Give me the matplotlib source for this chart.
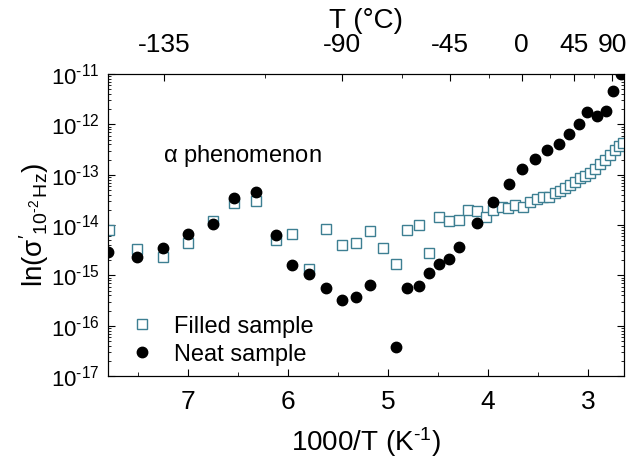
import matplotlib
matplotlib.use("Agg")
import matplotlib.pyplot as plt
import numpy as np
from matplotlib.ticker import LogLocator, FixedLocator, NullFormatter, FuncFormatter

plt.rcParams['font.family'] = ['Liberation Sans', 'DejaVu Sans']
plt.rcParams['mathtext.fontset'] = 'custom'
plt.rcParams['mathtext.rm'] = 'Liberation Sans'
plt.rcParams['mathtext.it'] = 'Liberation Sans:italic'
plt.rcParams['mathtext.default'] = 'regular'
plt.rcParams['axes.unicode_minus'] = False

# Neat sample (filled circles): 1000/T and log10(sigma')
neat_x = [7.80, 7.51, 7.25, 7.00, 6.75, 6.54, 6.32, 6.12, 5.96, 5.79, 5.62, 5.46, 5.32,
          5.18, 4.92, 4.81, 4.69, 4.59, 4.49, 4.39, 4.29, 4.11, 3.95, 3.79, 3.66,
          3.53, 3.41, 3.29, 3.19, 3.09, 3.01, 2.91, 2.82, 2.75, 2.67]
neat_e = [-14.54, -14.63, -14.45, -14.17, -13.97, -13.46, -13.35, -14.19, -14.80, -14.98,
          -15.25, -15.48, -15.43, -15.19, -16.43, -15.25, -15.21, -14.96, -14.78, -14.68,
          -14.43, -13.96, -13.55, -13.19, -12.89, -12.68, -12.51, -12.39, -12.20, -12.00,
          -11.76, -11.83, -11.74, -11.34, -10.99]

# Filled sample (open squares)
filled_x = [7.79, 7.51, 7.25, 7.00, 6.75, 6.54, 6.32, 6.12, 5.96, 5.79, 5.62, 5.46, 5.32,
            5.18, 5.05, 4.92, 4.81, 4.69, 4.59, 4.49, 4.39, 4.29, 4.20, 4.11, 4.02, 3.95,
            3.86, 3.80, 3.73, 3.65, 3.58, 3.51, 3.45, 3.39, 3.33, 3.28, 3.23, 3.18, 3.13,
            3.08, 3.03, 2.98, 2.93, 2.88, 2.83, 2.78, 2.73, 2.69, 2.65]
filled_e = [-14.10, -14.48, -14.63, -14.35, -13.92, -13.56, -13.52, -14.30, -14.17, -14.88,
            -14.08, -14.39, -14.35, -14.11, -14.45, -14.78, -14.10, -13.99, -14.55, -13.84,
            -13.92, -13.89, -13.70, -13.72, -13.84, -13.70, -13.64, -13.67, -13.61, -13.64,
            -13.54, -13.49, -13.45, -13.44, -13.37, -13.32, -13.27, -13.21, -13.14, -13.07,
            -13.03, -12.96, -12.88, -12.79, -12.71, -12.61, -12.51, -12.43, -12.37]

top_T_labels = [-135, -90, -45, 0, 45, 90]
top_T_minor = [-112.5, -67.5, -22.5, 22.5, 67.5]

neat_y = 10.0 ** np.array(neat_e)
filled_y = 10.0 ** np.array(filled_e)

HY = '\u2010'  # short hyphen for exponents

W, H = 627, 466
fig = plt.figure(figsize=(6.27, 4.66), dpi=100)
ax = fig.add_axes([0.172, 0.193, 0.823, 0.648])

sq_color = '#3d7f92'
ax.plot(filled_x, filled_y, linestyle='none', marker='s', markersize=6.5,
        markerfacecolor='white', markeredgecolor=sq_color, markeredgewidth=1.0,
        label='Filled sample', clip_on=True, zorder=3)
ax.plot(neat_x, neat_y, linestyle='none', marker='o', markersize=7.5,
        color='black', label='Neat sample', clip_on=True, zorder=4)

ax.set_yscale('log')
ax.set_xlim(7.8, 2.64)
ax.set_ylim(1e-17, 1e-11)

def yfmt(v, pos):
    e = int(round(np.log10(v)))
    if e < 0:
        return r'$10^{%s%d}$' % (HY, -e)
    return r'$10^{%d}$' % e

ax.xaxis.set_major_locator(FixedLocator([7, 6, 5, 4, 3]))
ax.xaxis.set_minor_locator(FixedLocator([7.5, 6.5, 5.5, 4.5, 3.5]))
ax.yaxis.set_major_locator(LogLocator(base=10, numticks=20))
ax.yaxis.set_major_formatter(FuncFormatter(yfmt))
ax.yaxis.set_minor_locator(LogLocator(base=10, subs=np.arange(2, 10), numticks=20))
ax.yaxis.set_minor_formatter(NullFormatter())

ax.tick_params(axis='both', which='both', direction='in', right=True)
ax.tick_params(axis='x', which='major', length=5, labelsize=19, pad=10)
ax.tick_params(axis='x', which='minor', length=3)
ax.tick_params(axis='y', which='major', length=5, labelsize=16, pad=6)
ax.tick_params(axis='y', which='minor', length=2.5)

ax.set_xlabel('1000/T (K$^{%s1}$)' % HY, fontsize=20, labelpad=8)
ax.set_ylabel(r"ln($\sigma'_{10^{%s2}\,Hz}$)" % HY, fontsize=20, labelpad=0)

fig.text(163 / W, 1 - 156 / H, r'$\alpha$ phenomenon', fontsize=17,
         va='center', ha='left')

leg = ax.legend(loc='lower left', bbox_to_anchor=(0.0, -0.02), frameon=False,
                fontsize=17, handletextpad=0.6, borderaxespad=0.3,
                labelspacing=0.25, handlelength=1.5)

# Top axis in degrees Celsius
ax2 = ax.twiny()
ax2.set_xlim(ax.get_xlim())
ax2.xaxis.set_major_locator(FixedLocator([1000.0 / (t + 273.15) for t in top_T_labels]))
ax2.xaxis.set_minor_locator(FixedLocator([1000.0 / (t + 273.15) for t in top_T_minor]))
ax2.set_xticklabels([str(t) for t in top_T_labels])
ax2.tick_params(axis='x', which='both', direction='in')
ax2.tick_params(axis='x', which='major', length=5, labelsize=19, pad=12)
ax2.tick_params(axis='x', which='minor', length=3)
ax2.set_xlabel('T (°C)', fontsize=20, labelpad=4)

fig.savefig('out.png', dpi=100)
